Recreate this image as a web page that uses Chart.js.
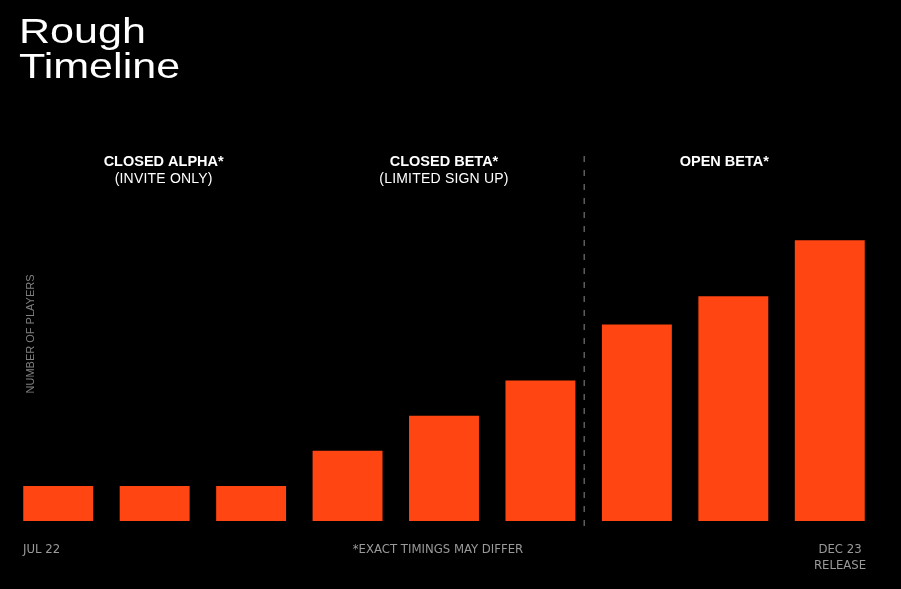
<!DOCTYPE html>
<html>
<head>
<meta charset="utf-8">
<script src="https://cdn.jsdelivr.net/npm/chart.js@4/dist/chart.umd.min.js"></script>
<style>
  html, body { margin: 0; padding: 0; background: #000; }
  #wrap { width: 901px; height: 589px; }
</style>
</head>
<body>
<div id="wrap"><canvas id="chart"></canvas></div>
<script>
// data
const months = ['Jul 22', '', '', '', '', '', '', '', 'Dec 23'];
const players = [1, 1, 1, 2, 3, 4, 5.6, 6.4, 8];
const titleLines = ['Rough', 'Timeline'];
const phaseNames = ['CLOSED ALPHA*', 'CLOSED BETA*', 'OPEN BETA*'];
const phaseNotes = ['(INVITE ONLY)', '(LIMITED SIGN UP)', ''];
const phaseMiddle = [1, 4, 7];
const phaseShift = [9, 0, -9];
const startLabel = 'JUL 22';
const endLabel = ['DEC 23', 'RELEASE'];
const footNote = '*EXACT TIMINGS MAY DIFFER';
const yLabel = 'NUMBER OF PLAYERS';

const orange = '#ff4612';
const sans = '"Liberation Sans", Arial, sans-serif';
const narrow = '"Liberation Sans Narrow", "DejaVu Sans Condensed", Arial, sans-serif';

const decorations = {
  id: 'decorations',
  afterDraw(chart) {
    const { ctx, chartArea, scales } = chart;
    const x = scales.x;
    ctx.save();

    // title, stretched a bit to look like the wide display face
    ctx.save();
    ctx.fillStyle = '#fff';
    ctx.font = '35px ' + sans;
    ctx.textBaseline = 'alphabetic';
    ctx.textAlign = 'left';
    ctx.translate(19, 0);
    ctx.scale(1.23, 1);
    ctx.fillText(titleLines[0], 0, 43);
    ctx.fillText(titleLines[1], 0, 78);
    ctx.restore();

    // phase headings
    ctx.fillStyle = '#fff';
    ctx.textAlign = 'center';
    ctx.textBaseline = 'middle';
    phaseNames.forEach((name, i) => {
      const cx = x.getPixelForValue(phaseMiddle[i]) + phaseShift[i];
      ctx.font = 'bold 14.5px ' + sans;
      ctx.letterSpacing = '0px';
      ctx.fillText(name, cx, 162);
      ctx.font = '14px ' + sans;
      ctx.letterSpacing = '0.2px';
      ctx.fillText(phaseNotes[i], cx, 179);
    });
    ctx.letterSpacing = '0px';

    // dashed separator between closed and open beta
    const sep = (x.getPixelForValue(5) + x.getPixelForValue(6)) / 2 - 4.5;
    ctx.strokeStyle = '#8a8a8a';
    ctx.lineWidth = 1;
    ctx.setLineDash([6, 8]);
    ctx.beginPath();
    ctx.moveTo(sep, 156);
    ctx.lineTo(sep, chartArea.bottom + 11);
    ctx.stroke();
    ctx.setLineDash([]);

    // bottom labels
    ctx.fillStyle = '#9a9a9a';
    ctx.font = '13px ' + narrow;
    ctx.textAlign = 'left';
    ctx.fillText(startLabel, 23, 550);
    ctx.textAlign = 'center';
    ctx.fillText(footNote, 438, 550);
    ctx.fillText(endLabel[0], 840, 550);
    ctx.fillText(endLabel[1], 840, 566);

    // y axis label
    ctx.fillStyle = '#808080';
    ctx.font = '11px ' + sans;
    ctx.translate(31, 334);
    ctx.rotate(-Math.PI / 2);
    ctx.fillText(yLabel, 0, 0);

    ctx.restore();
  }
};

new Chart(document.getElementById('chart'), {
  type: 'bar',
  data: {
    labels: months,
    datasets: [{
      data: players,
      backgroundColor: orange,
      borderWidth: 0,
      barPercentage: 0.725,
      categoryPercentage: 1
    }]
  },
  options: {
    responsive: true,
    maintainAspectRatio: false,
    animation: false,
    layout: { padding: { top: 170, bottom: 68, left: 10, right: 23 } },
    plugins: {
      legend: { display: false },
      tooltip: { enabled: false }
    },
    scales: {
      x: { display: false, offset: true },
      y: { display: false, min: 0, max: 10 }
    }
  },
  plugins: [decorations]
});
</script>
</body>
</html>
